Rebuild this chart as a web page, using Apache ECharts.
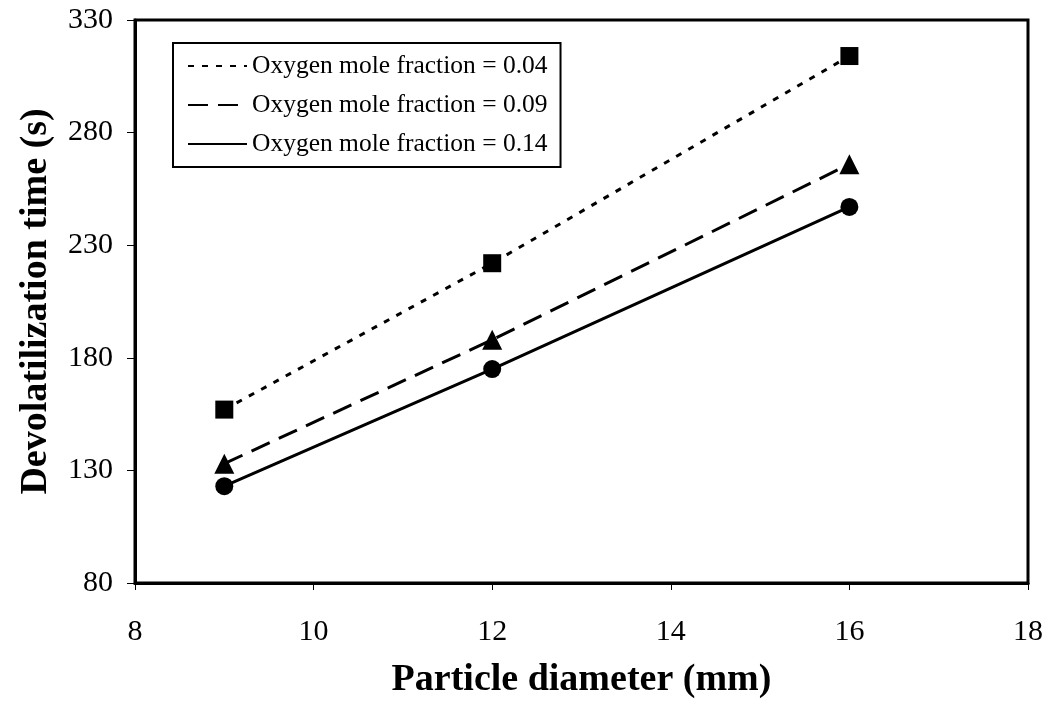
<!DOCTYPE html>
<html>
<head>
<meta charset="utf-8">
<script src="https://cdn.jsdelivr.net/npm/echarts@6/dist/echarts.min.js"></script>
<style>html,body{margin:0;padding:0;background:#fff}#c{width:1048px;height:704px}</style>
</head>
<body>
<div id="c"></div>
<script>
const diameters = [9, 12, 16];
const seriesNames = ['Oxygen mole fraction = 0.04', 'Oxygen mole fraction = 0.09', 'Oxygen mole fraction = 0.14'];
const time004 = [157, 222, 314];
const time009 = [133, 188, 266];
const time014 = [123, 175, 247];
const xTicks = [8, 10, 12, 14, 16, 18];
const yTicks = [80, 130, 180, 230, 280, 330];

const font = 'Liberation Serif, Times New Roman, serif';
const chart = echarts.init(document.getElementById('c'), null, {renderer: 'canvas'});

function pts(vals) { return diameters.map((d, i) => [d, vals[i]]); }

chart.setOption({
  animation: false,
  backgroundColor: '#fff',
  grid: {left: 135, top: 20, right: 20, bottom: 121, show: true, borderColor: '#000', borderWidth: 3, backgroundColor: 'transparent'},
  legend: {
    orient: 'vertical', left: 173, top: 43,
    padding: [10, 13, 10, 14],
    borderColor: '#000', borderWidth: 2,
    itemWidth: 59, itemHeight: 14, itemGap: 13,
    itemStyle: {opacity: 0},
    textStyle: {fontFamily: font, fontSize: 25.5, color: '#000'},
    data: seriesNames
  },
  xAxis: {
    type: 'value', min: xTicks[0], max: xTicks[xTicks.length - 1], interval: 2,
    axisLine: {lineStyle: {color: '#000', width: 3}},
    axisTick: {show: true, length: 7, lineStyle: {color: '#000', width: 1}},
    splitLine: {show: false},
    axisLabel: {fontFamily: font, fontSize: 30, color: '#000', margin: 34},
    name: 'Particle diameter (mm)', nameLocation: 'middle', nameGap: 78,
    nameTextStyle: {fontFamily: font, fontSize: 38, fontWeight: 'bold', color: '#000'}
  },
  yAxis: {
    type: 'value', min: yTicks[0], max: yTicks[yTicks.length - 1], interval: 50,
    axisLine: {show: true, lineStyle: {color: '#000', width: 3}},
    axisTick: {show: true, length: 8, lineStyle: {color: '#000', width: 1}},
    splitLine: {show: false},
    axisLabel: {fontFamily: font, fontSize: 30, color: '#000', margin: 22},
    name: 'Devolatilization time (s)', nameLocation: 'middle', nameGap: 80, nameRotate: 90,
    nameTextStyle: {fontFamily: font, fontSize: 38, fontWeight: 'bold', color: '#000'}
  },
  series: [
    {name: seriesNames[0], type: 'line', data: pts(time004), symbol: 'rect', symbolSize: 18,
     itemStyle: {color: '#000'}, lineStyle: {color: '#000', width: 3, type: [6, 8]}},
    {name: seriesNames[1], type: 'line', data: pts(time009), symbol: 'triangle', symbolSize: 20,
     itemStyle: {color: '#000'}, lineStyle: {color: '#000', width: 3, type: [20, 10]}},
    {name: seriesNames[2], type: 'line', data: pts(time014), symbol: 'circle', symbolSize: 18,
     itemStyle: {color: '#000'}, lineStyle: {color: '#000', width: 3}}
  ]
});
</script>
</body>
</html>
